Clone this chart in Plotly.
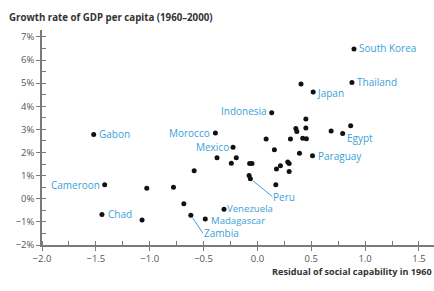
import plotly.graph_objects as go

# Labeled countries
lab_names = ["South Korea", "Thailand", "Japan", "Indonesia", "Egypt", "Paraguay",
             "Morocco", "Mexico", "Gabon", "Cameroon", "Chad", "Venezuela",
             "Madagascar", "Zambia", "Peru"]
lab_x = [0.897, 0.878, 0.518, 0.133, 0.792, 0.512,
         -0.39, -0.226, -1.52, -1.418, -1.443, -0.31,
         -0.484, -0.618, -0.065]
lab_y = [6.48, 5.03, 4.62, 3.72, 2.82, 1.86,
         2.84, 2.23, 2.78, 0.61, -0.68, -0.45,
         -0.87, -0.71, 0.87]

# Unlabeled countries
other_x = [0.405, 0.45, 0.357, 0.366, 0.45, 0.685, 0.866, 0.081, 0.307, 0.421, 0.455,
           0.158, 0.391, -0.375, -0.196, -0.242, -0.072, -0.050, 0.282, 0.295, 0.214,
           0.177, 0.295, -0.077, 0.171, -0.587, -0.779, -1.027, -0.683, -1.071]
other_y = [4.96, 3.45, 3.04, 2.91, 3.06, 2.93, 3.16, 2.58, 2.58, 2.62, 2.60,
           2.12, 1.97, 1.77, 1.77, 1.54, 1.52, 1.53, 1.59, 1.52, 1.43,
           1.29, 1.18, 1.01, 0.61, 1.21, 0.50, 0.45, -0.22, -0.92]

x_ticks = [-2.0, -1.5, -1.0, -0.5, 0.0, 0.5, 1.0, 1.5]
y_ticks = [-2, -1, 0, 1, 2, 3, 4, 5, 6, 7]

y_title = "Growth rate of GDP per capita (1960–2000)"
x_title = "Residual of social capability in 1960"

placement = {
    "South Korea": ("left", 4, 1, 10),
    "Thailand": ("left", 4, 0, 10),
    "Japan": ("left", 3, -1, 10),
    "Indonesia": ("right", -4, 2, 10),
    "Egypt": ("left", 3, -4, 10),
    "Paraguay": ("left", 4, 0, 10),
    "Morocco": ("right", -4, 0, 10),
    "Mexico": ("right", -3, 0, 10),
    "Gabon": ("left", 4, 0, 10),
    "Cameroon": ("right", -4, 0, 10),
    "Chad": ("left", 5, 0, 10),
    "Venezuela": ("left", 2, 1, 9.6),
    "Madagascar": ("left", 5, -2, 9.6),
}
arrows = {"Zambia": (12, 18), "Peru": (22, 18)}

BLUE = "#3a9fd8"
AXC = "#7a7a7a"
FONT = "Open Sans, Noto Sans, sans-serif"

fig = go.Figure()
fig.add_trace(go.Scatter(x=other_x + lab_x, y=other_y + lab_y, mode="markers",
                         marker=dict(color="#111111", size=5), hoverinfo="skip",
                         showlegend=False))
fig.add_trace(go.Scatter(x=[x_ticks[0]], y=[y_ticks[0]], xaxis="x2", yaxis="y2",
                         mode="markers", marker=dict(opacity=0), showlegend=False,
                         hoverinfo="skip"))

for n, x, y in zip(lab_names, lab_x, lab_y):
    if n in placement:
        side, xs, ys, fs = placement[n]
        fig.add_annotation(x=x, y=y, text=n, showarrow=False, xanchor=side,
                           yanchor="middle", xshift=xs, yshift=ys, borderpad=0,
                           font=dict(color=BLUE, size=fs, family=FONT))
    else:
        ax, ay = arrows[n]
        fig.add_annotation(x=x, y=y, text=n, showarrow=True, arrowhead=0,
                           arrowwidth=1, arrowcolor=BLUE, ax=ax, ay=ay,
                           xanchor="left", yanchor="middle", standoff=3, borderpad=0,
                           font=dict(color=BLUE, size=10, family=FONT))

fig.add_annotation(xref="paper", yref="paper", x=-0.09, y=1.0, yshift=13,
                   text="<b>" + y_title + "</b>", showarrow=False,
                   xanchor="left", yanchor="middle",
                   font=dict(size=9.7, color="#333333", family=FONT))
fig.add_annotation(xref="paper", yref="paper", x=1.0, y=0.0, yshift=-26,
                   text="<b>" + x_title + "</b>", showarrow=False,
                   xanchor="right", yanchor="middle",
                   font=dict(size=9.1, color="#333333", family=FONT))

x_rng = [-2.0, 1.64]
y_rng = [-2.0, 7.3]

fig.update_layout(
    width=434, height=291,
    margin=dict(l=42, r=0, t=30, b=46),
    paper_bgcolor="white", plot_bgcolor="white",
    font=dict(family=FONT, color="#555555", size=9),
    xaxis=dict(range=x_rng, tickvals=x_ticks, ticktext=[f"{v:.1f}".replace("-", "−") for v in x_ticks],
               showgrid=False, zeroline=False, showline=True, linecolor=AXC,
               linewidth=1.5, ticks="outside", ticklen=4, tickcolor=AXC, tickwidth=1,
               minor=dict(dtick=0.25, tick0=0, ticks="inside", ticklen=4,
                          tickcolor=AXC, tickwidth=1),
               tickfont=dict(size=9.5, color="#555555")),
    yaxis=dict(range=y_rng, tickvals=y_ticks, ticktext=[f"{v}%".replace("-", "−") for v in y_ticks],
               showgrid=False, zeroline=False, showline=True, linecolor=AXC,
               linewidth=1.5, ticks="outside", ticklen=4, tickcolor=AXC, tickwidth=1,
               minor=dict(dtick=0.5, tick0=0, ticks="inside", ticklen=4,
                          tickcolor=AXC, tickwidth=1),
               tickfont=dict(size=9.5, color="#555555")),
    xaxis2=dict(range=x_rng, overlaying="x", tickvals=x_ticks, showticklabels=False,
                showgrid=False, zeroline=False, showline=False, ticks="inside",
                ticklen=4, tickcolor=AXC, side="bottom"),
    yaxis2=dict(range=y_rng, overlaying="y", tickvals=y_ticks, showticklabels=False,
                showgrid=False, zeroline=False, showline=False, ticks="inside",
                ticklen=4, tickcolor=AXC, side="left"),
)

fig.write_html("out.html", config={"displayModeBar": False},
               post_script="document.body.style.margin='0';document.body.style.padding='0';")
